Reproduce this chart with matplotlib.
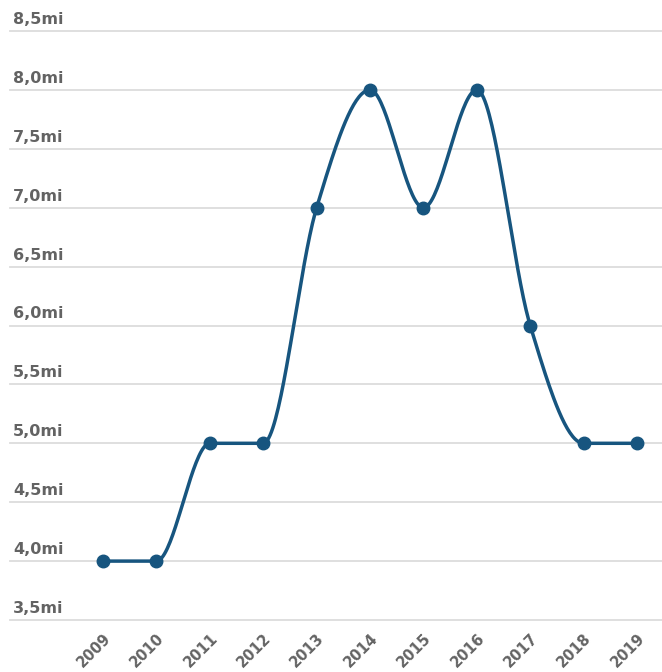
import numpy as np
import matplotlib.pyplot as plt
from matplotlib.transforms import blended_transform_factory, offset_copy

years = [2009, 2010, 2011, 2012, 2013, 2014, 2015, 2016, 2017, 2018, 2019]
values = [4.0, 4.0, 5.0, 5.0, 7.0, 8.0, 7.0, 8.0, 6.0, 5.0, 5.0]
y_ticks = [3.5, 4.0, 4.5, 5.0, 5.5, 6.0, 6.5, 7.0, 7.5, 8.0, 8.5]
y_labels = ["3,5mi", "4,0mi", "4,5mi", "5,0mi", "5,5mi", "6,0mi",
            "6,5mi", "7,0mi", "7,5mi", "8,0mi", "8,5mi"]

LINE = "#17557f"
TXT = "#636363"


def monotone_x(x, y, n=40):
    # same idea as d3 curveMonotoneX
    x = np.asarray(x, float)
    y = np.asarray(y, float)
    h = np.diff(x)
    s = np.diff(y) / h
    t = np.zeros(len(x))
    for i in range(1, len(x) - 1):
        p = (s[i - 1] * h[i] + s[i] * h[i - 1]) / (h[i - 1] + h[i])
        t[i] = (np.sign(s[i - 1]) + np.sign(s[i])) * min(abs(s[i - 1]), abs(s[i]), 0.5 * abs(p))
    t[0] = (3 * s[0] - t[1]) / 2
    t[-1] = (3 * s[-1] - t[-2]) / 2
    xs, ys = [], []
    for i in range(len(x) - 1):
        u = np.linspace(0, 1, n)
        h00 = 2 * u**3 - 3 * u**2 + 1
        h10 = u**3 - 2 * u**2 + u
        h01 = -2 * u**3 + 3 * u**2
        h11 = u**3 - u**2
        xs.extend(x[i] + u * h[i])
        ys.extend(h00 * y[i] + h10 * h[i] * t[i] + h01 * y[i + 1] + h11 * h[i] * t[i + 1])
    return np.array(xs), np.array(ys)


plt.rcParams['font.family'] = ['DejaVu Sans']

fig = plt.figure(figsize=(6.62, 6.72), dpi=100)
ax = fig.add_axes([10 / 662, 1 - 620 / 672, 652 / 662, 589 / 672])

ax.set_xlim(2007.258, 2019.468)
ax.set_ylim(3.5, 8.5)

for v in y_ticks:
    ax.axhline(v, color="#dcdcdc", lw=1.3, zorder=1, clip_on=False)

xs, ys = monotone_x(years, values)
ax.plot(xs, ys, color=LINE, lw=2.5, zorder=3, solid_capstyle='round')
ax.plot(years, values, 'o', color=LINE, ms=9, zorder=4, clip_on=False)

trans = blended_transform_factory(ax.transAxes, ax.transData)
trans = offset_copy(trans, fig=fig, x=3, y=4, units='dots')
for v, lab in zip(y_ticks, y_labels):
    ax.text(0, v, lab, transform=trans, ha='left', va='bottom',
            fontsize=11.5, fontweight='bold', color=TXT)

ax.set_yticks([])
ax.set_xticks(years)
ax.set_xticklabels([str(yr) for yr in years], rotation=45, ha='right',
                   va='top', rotation_mode='anchor', fontsize=10.5,
                   fontweight='bold', color=TXT)
ax.tick_params(axis='x', length=0, pad=7.5)
for sp in ax.spines.values():
    sp.set_visible(False)

fig.savefig("out.png", dpi=100)
